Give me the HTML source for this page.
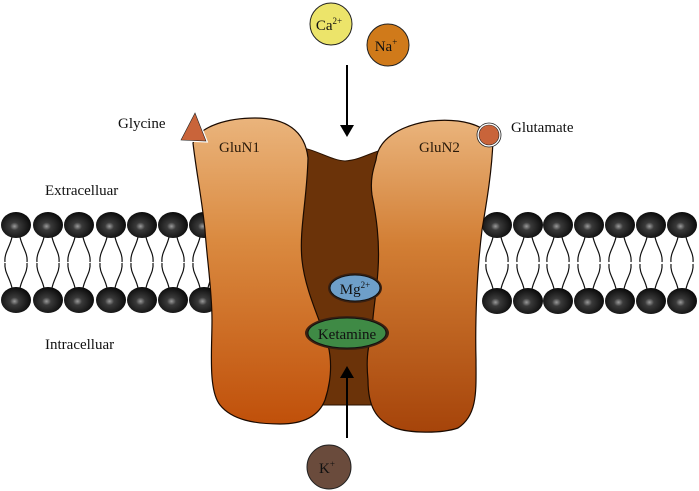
<!DOCTYPE html>
<html><head><meta charset="utf-8"><style>
html,body{margin:0;padding:0;background:#fff;}
svg{display:block;}
text{font-family:"Liberation Serif",serif;}
</style></head><body>
<svg width="699" height="491" viewBox="0 0 699 491" xmlns="http://www.w3.org/2000/svg">
<defs>
<radialGradient id="hd" cx="0.45" cy="0.55" r="0.6">
<stop offset="0" stop-color="#9a9a9a"/><stop offset="0.25" stop-color="#3a3a3a"/><stop offset="1" stop-color="#050505"/>
</radialGradient>
<linearGradient id="pl" x1="0" y1="0" x2="0" y2="1">
<stop offset="0" stop-color="#eab47c"/><stop offset="0.4" stop-color="#da8a40"/><stop offset="1" stop-color="#c0500a"/>
</linearGradient>
<linearGradient id="pr" x1="0" y1="0" x2="0" y2="1">
<stop offset="0" stop-color="#eab47c"/><stop offset="0.4" stop-color="#d27e34"/><stop offset="1" stop-color="#a6440a"/>
</linearGradient>
<g id="lipU"><ellipse cx="0" cy="0" rx="15" ry="13" fill="url(#hd)"/>
<path d="M-4,12 C-6,22 -12,28 -11,37 M4,12 C6,22 12,28 11,37" stroke="#111" stroke-width="1.2" fill="none"/></g>
<g id="lipD"><ellipse cx="0" cy="0" rx="15" ry="13" fill="url(#hd)"/>
<path d="M-4,-12 C-6,-22 -12,-28 -11,-37 M4,-12 C6,-22 12,-28 11,-37" stroke="#111" stroke-width="1.2" fill="none"/></g>
</defs>
<g>
<use href="#lipU" x="16" y="225"/><use href="#lipU" x="48" y="225"/><use href="#lipU" x="79" y="225"/><use href="#lipU" x="111" y="225"/><use href="#lipU" x="142" y="225"/><use href="#lipU" x="173" y="225"/><use href="#lipU" x="204" y="225"/>
<use href="#lipD" x="16" y="300"/><use href="#lipD" x="48" y="300"/><use href="#lipD" x="79" y="300"/><use href="#lipD" x="111" y="300"/><use href="#lipD" x="142" y="300"/><use href="#lipD" x="173" y="300"/><use href="#lipD" x="204" y="300"/>
<use href="#lipU" x="497" y="225"/><use href="#lipU" x="528" y="225"/><use href="#lipU" x="558" y="225"/><use href="#lipU" x="589" y="225"/><use href="#lipU" x="620" y="225"/><use href="#lipU" x="651" y="225"/><use href="#lipU" x="682" y="225"/>
<use href="#lipD" x="497" y="301"/><use href="#lipD" x="528" y="301"/><use href="#lipD" x="558" y="301"/><use href="#lipD" x="589" y="301"/><use href="#lipD" x="620" y="301"/><use href="#lipD" x="651" y="301"/><use href="#lipD" x="682" y="301"/>
</g>
<!-- channel -->
<path d="M295,146 C318,150 330,160 345,161 C360,160 372,152 382,150 L385,405 L300,405 Z" fill="#6b3309" stroke="#2a1200" stroke-width="1"/>
<!-- left subunit -->
<path d="M193,143 C200,125 230,118 255,118 C285,118 305,130 308,158 C307,200 299,230 302,260 C305,290 320,320 328,345 C333,365 330,385 325,400 C318,418 300,424 280,424 C255,424 232,420 220,405 C208,390 212,350 212,320 C212,290 207,260 205,230 C202,200 196,170 193,143 Z" fill="url(#pl)" stroke="#1a0a00" stroke-width="1.2"/>
<!-- right subunit -->
<path d="M376,160 C378,140 398,126 430,121 C460,118 485,124 493,140 C492,170 487,200 482,230 C477,270 475,320 476,360 C476,390 478,415 458,428 C440,434 410,433 395,428 C375,420 368,405 368,380 C366,360 368,345 372,335 C372,315 376,300 378,270 C380,240 376,215 372,195 C370,180 373,170 376,160 Z" fill="url(#pr)" stroke="#1a0a00" stroke-width="1.2"/>
<ellipse cx="355" cy="288" rx="27" ry="15" fill="#3b2010"/>
<ellipse cx="355" cy="288" rx="25" ry="13" fill="#6e9fc9" stroke="#111" stroke-width="1"/>
<text x="355" y="294" font-size="15" text-anchor="middle" fill="#111">Mg<tspan font-size="9" dy="-6">2+</tspan></text>
<ellipse cx="347" cy="333" rx="42" ry="17" fill="#3b2010"/>
<ellipse cx="347" cy="333" rx="39" ry="15" fill="#3f8a45" stroke="#111" stroke-width="1"/>
<text x="347" y="339" font-size="15" text-anchor="middle" fill="#111">Ketamine</text>
<line x1="347" y1="65" x2="347" y2="128" stroke="#000" stroke-width="2"/>
<path d="M340,125 L347,137 L354,125 Z" fill="#000"/>
<line x1="347" y1="438" x2="347" y2="375" stroke="#000" stroke-width="2"/>
<path d="M340,378 L347,366 L354,378 Z" fill="#000"/>
<circle cx="331" cy="24" r="21" fill="#ece46a" stroke="#222" stroke-width="1"/>
<text x="329" y="30" font-size="15" text-anchor="middle" fill="#111">Ca<tspan font-size="9" dy="-6">2+</tspan></text>
<circle cx="388" cy="45" r="21" fill="#d07a1a" stroke="#222" stroke-width="1"/>
<text x="386" y="51" font-size="15" text-anchor="middle" fill="#111">Na<tspan font-size="9" dy="-6">+</tspan></text>
<circle cx="329" cy="467" r="22" fill="#6a4b3c" stroke="#222" stroke-width="1"/>
<text x="327" y="473" font-size="15" text-anchor="middle" fill="#111">K<tspan font-size="9" dy="-6">+</tspan></text>
<path d="M195,113 L181,140 L206,141 Z" fill="#c9643a" stroke="#fff" stroke-width="3"/>
<path d="M195,113 L181,140 L206,141 Z" fill="#c9643a" stroke="#222" stroke-width="0.6"/>
<circle cx="489" cy="135" r="12" fill="#fff" stroke="#222" stroke-width="0.8"/>
<circle cx="489" cy="135" r="10" fill="#c9643a" stroke="#222" stroke-width="0.6"/>
<text x="219" y="152" font-size="15" fill="#2a1a0a">GluN1</text>
<text x="419" y="152" font-size="15" fill="#2a1a0a">GluN2</text>
<text x="118" y="128" font-size="15" fill="#111">Glycine</text>
<text x="511" y="132" font-size="15" fill="#111">Glutamate</text>
<text x="45" y="195" font-size="15" fill="#111">Extracelluar</text>
<text x="45" y="349" font-size="15" fill="#111">Intracelluar</text>
</svg>
</body></html>
